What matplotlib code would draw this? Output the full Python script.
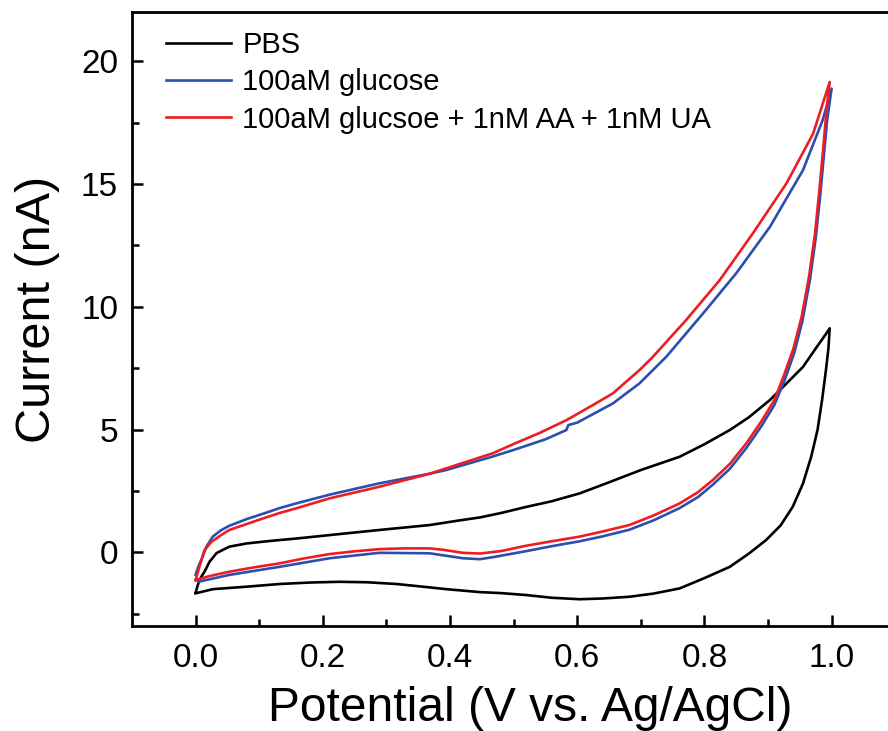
import matplotlib
matplotlib.use("Agg")
import matplotlib.pyplot as plt

plt.rcParams['font.family'] = ['Liberation Sans', 'DejaVu Sans']

# Cyclic voltammograms: each scan goes 0 V -> 1.0 V (anodic) and back to 0 V.
pbs_potential = [0.000, 0.005, 0.010, 0.014, 0.022, 0.033, 0.053, 0.080, 0.105, 0.132,
                 0.158, 0.210, 0.289, 0.368, 0.415, 0.447, 0.480, 0.520, 0.560, 0.604,
                 0.650, 0.700, 0.761, 0.800, 0.840, 0.870, 0.903, 0.930, 0.955, 0.975,
                 0.990, 0.997,
                 0.995, 0.991, 0.985, 0.978, 0.968, 0.955, 0.939, 0.920, 0.897, 0.870,
                 0.840, 0.800, 0.761, 0.720, 0.682, 0.640, 0.604, 0.560, 0.520, 0.480,
                 0.447, 0.394, 0.350, 0.316, 0.270, 0.226, 0.180, 0.132, 0.080, 0.027,
                 0.000]
pbs_current = [-1.64, -1.20, -0.95, -0.79, -0.38, -0.03, 0.23, 0.36, 0.43, 0.50,
               0.56, 0.70, 0.91, 1.11, 1.30, 1.42, 1.60, 1.85, 2.08, 2.40,
               2.85, 3.35, 3.89, 4.40, 4.98, 5.50, 6.20, 6.90, 7.55, 8.30,
               8.85, 9.12,
               8.30, 7.40, 6.20, 5.00, 3.90, 2.80, 1.86, 1.10, 0.50, -0.05,
               -0.59, -1.05, -1.47, -1.68, -1.81, -1.88, -1.91, -1.85, -1.74, -1.66,
               -1.62, -1.50, -1.38, -1.29, -1.22, -1.20, -1.23, -1.29, -1.40, -1.50,
               -1.67]

glu_potential = [0.000, 0.004, 0.009, 0.017, 0.027, 0.040, 0.053, 0.080, 0.106, 0.132,
                 0.158, 0.211, 0.289, 0.368, 0.394, 0.467, 0.499, 0.550, 0.583, 0.586,
                 0.600, 0.656, 0.698, 0.740, 0.798, 0.850, 0.903, 0.955, 0.986, 1.000,
                 0.993, 0.988, 0.982, 0.975, 0.966, 0.954, 0.941, 0.926, 0.910, 0.890,
                 0.866, 0.840, 0.813, 0.790, 0.761, 0.720, 0.682, 0.640, 0.604, 0.560,
                 0.520, 0.467, 0.447, 0.420, 0.368, 0.289, 0.211, 0.132, 0.053, 0.004]
glu_current = [-0.92, -0.60, -0.31, 0.23, 0.64, 0.90, 1.08, 1.35, 1.57, 1.80,
               1.99, 2.35, 2.81, 3.20, 3.35, 3.90, 4.16, 4.60, 4.98, 5.18,
               5.28, 6.06, 6.88, 7.96, 9.73, 11.36, 13.25, 15.56, 17.60, 18.88,
               17.60, 16.20, 14.50, 12.80, 11.10, 9.40, 8.10, 7.00, 6.00, 5.15,
               4.25, 3.40, 2.75, 2.25, 1.80, 1.30, 0.92, 0.65, 0.45, 0.25,
               0.05, -0.20, -0.28, -0.24, -0.04, -0.02, -0.24, -0.59, -0.92, -1.20]

mix_potential = [0.000, 0.006, 0.014, 0.025, 0.040, 0.053, 0.080, 0.106, 0.132, 0.158,
                 0.211, 0.289, 0.368, 0.394, 0.467, 0.499, 0.540, 0.583, 0.625, 0.656,
                 0.698, 0.719, 0.771, 0.824, 0.876, 0.929, 0.971, 0.997,
                 0.992, 0.987, 0.981, 0.974, 0.965, 0.953, 0.940, 0.925, 0.910, 0.890,
                 0.866, 0.840, 0.813, 0.790, 0.761, 0.720, 0.682, 0.640, 0.604, 0.560,
                 0.520, 0.480, 0.447, 0.420, 0.390, 0.368, 0.330, 0.289, 0.250, 0.211,
                 0.170, 0.132, 0.090, 0.053, 0.020, 0.000]
mix_current = [-1.13, -0.59, 0.09, 0.43, 0.70, 0.91, 1.15, 1.38, 1.60, 1.79,
               2.20, 2.67, 3.20, 3.42, 4.03, 4.40, 4.85, 5.38, 6.00, 6.47,
               7.42, 7.96, 9.45, 11.08, 12.98, 15.02, 17.05, 19.15,
               18.00, 16.50, 14.80, 13.00, 11.30, 9.60, 8.30, 7.20, 6.20, 5.35,
               4.44, 3.60, 2.94, 2.45, 1.99, 1.50, 1.11, 0.85, 0.64, 0.45,
               0.27, 0.05, -0.05, -0.02, 0.10, 0.16, 0.16, 0.13, 0.04, -0.07,
               -0.25, -0.45, -0.62, -0.79, -0.98, -1.13]

series_labels = ["PBS", "100aM glucose", "100aM glucsoe + 1nM AA + 1nM UA"]
series_colors = ["#000000", "#2b4fae", "#ee1d24"]

x_ticks = [0.0, 0.2, 0.4, 0.6, 0.8, 1.0]
y_ticks = [0, 5, 10, 15, 20]

fig = plt.figure(figsize=(8.88, 7.31), dpi=100)
ax = fig.add_axes([132 / 888, 105 / 731, 763.2 / 888, 614 / 731])

for xs, ys, lab, col in zip([pbs_potential, glu_potential, mix_potential],
                            [pbs_current, glu_current, mix_current],
                            series_labels, series_colors):
    ax.plot(xs, ys, color=col, lw=1.9, label=lab, solid_joinstyle='round')

ax.set_xlim(-0.1, 1.1)
ax.set_ylim(-3, 22)
ax.set_xticks(x_ticks)
ax.set_xticklabels([f"{v:.1f}" for v in x_ticks])
ax.set_yticks(y_ticks)
ax.set_xticks([0.1, 0.3, 0.5, 0.7, 0.9], minor=True)
ax.set_yticks([-2.5, 2.5, 7.5, 12.5, 17.5], minor=True)

ax.tick_params(which='both', direction='in', width=1.8, labelsize=24)
ax.tick_params(which='major', length=8, pad=12)
ax.tick_params(which='minor', length=5)
ax.tick_params(axis='y', pad=10)
for side in ['left', 'bottom', 'top', 'right']:
    ax.spines[side].set_linewidth(2.0)

ax.set_xlabel("Potential (V vs. Ag/AgCl)", fontsize=34.5)
ax.set_ylabel("Current (nA)", fontsize=35)
ax.xaxis.set_label_coords(0.5215, -0.098, transform=ax.transAxes)
ax.xaxis.label.set_va('top')
ax.yaxis.set_label_coords(-0.094, 0.515, transform=ax.transAxes)

leg = ax.legend(loc='upper left', bbox_to_anchor=(0.045, 0.969), frameon=False,
                fontsize=21, handlelength=2.2, handletextpad=0.4, labelspacing=0.32,
                borderpad=0, borderaxespad=0)
for h in leg.get_lines():
    h.set_linewidth(1.9)

fig.savefig("out.png", dpi=100)
